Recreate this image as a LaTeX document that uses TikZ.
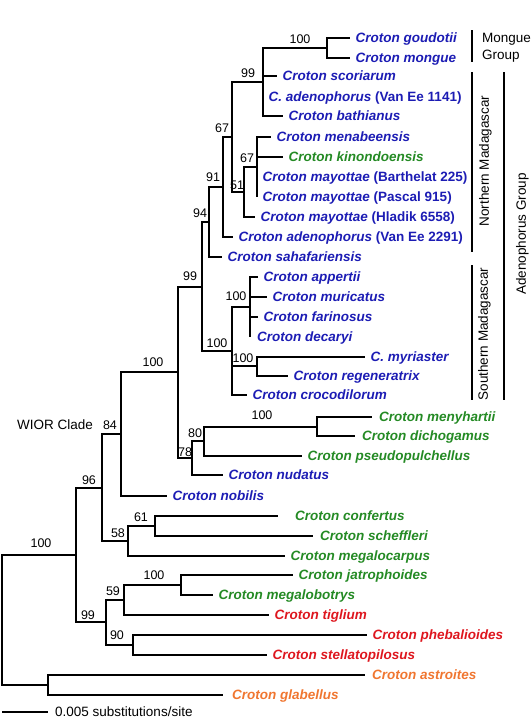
\documentclass[tikz,border=0pt]{standalone}
\usepackage{fontspec}
\setmainfont{Liberation Sans}
\usepackage{xcolor}
\usepackage{tikz}
\definecolor{crotonblue}{RGB}{28,28,180}
\definecolor{crotongreen}{RGB}{36,138,36}
\definecolor{crotonred}{RGB}{222,22,30}
\definecolor{crotonorange}{RGB}{240,118,48}

\begin{document}
\begin{tikzpicture}[x=1pt, y=-1pt,
    branch/.style={line width=1.8pt},
    taxon/.style={anchor=west, inner xsep=5.5pt, inner ysep=0pt, text height=9.7pt, text depth=0.9pt,
                  font=\fontsize{13.5}{16}\selectfont\bfseries\itshape},
    bluetaxon/.style={taxon, text=crotonblue},
    greentaxon/.style={taxon, text=crotongreen},
    redtaxon/.style={taxon, text=crotonred},
    orangetaxon/.style={taxon, text=crotonorange},
    boot/.style={inner sep=0pt, text height=9pt, text depth=0pt, font=\fontsize{12.5}{15}\selectfont},
    grouplabel/.style={inner sep=0pt, text height=9.7pt, text depth=0pt, font=\fontsize{13.5}{17}\selectfont},
    bar/.style={line width=1.8pt},
]
    \useasboundingbox (0,0) rectangle (532,720);

    % taxa
    \node[bluetaxon] (goudotii) at (350,38) {Croton goudotii};
    \node[bluetaxon] (mongue) at (350,58) {Croton mongue};
    \node[bluetaxon] (scoriarum) at (277,76) {Croton scoriarum};
    \node[bluetaxon] (adenoA) at (263,97) {C. adenophorus {\upshape(Van Ee 1141)}};
    \node[bluetaxon] (bathianus) at (283,116) {Croton bathianus};
    \node[bluetaxon] (menabeensis) at (271,137) {Croton menabeensis};
    \node[greentaxon] (kinondoensis) at (283,157) {Croton kinondoensis};
    \node[bluetaxon] (mayottaeA) at (257,177) {Croton mayottae {\upshape(Barthelat 225)}};
    \node[bluetaxon] (mayottaeB) at (257,197) {Croton mayottae {\upshape(Pascal 915)}};
    \node[bluetaxon] (mayottaeC) at (255,217) {Croton mayottae {\upshape(Hladik 6558)}};
    \node[bluetaxon] (adenoB) at (233,237) {Croton adenophorus {\upshape(Van Ee 2291)}};
    \node[bluetaxon] (sahafariensis) at (222,257) {Croton sahafariensis};
    \node[bluetaxon] (appertii) at (258,277) {Croton appertii};
    \node[bluetaxon] (muricatus) at (267,297) {Croton muricatus};
    \node[bluetaxon] (farinosus) at (258,317) {Croton farinosus};
    \node[bluetaxon, inner xsep=7pt] (decaryi) at (250,337) {Croton decaryi};
    \node[bluetaxon] (myriaster) at (365,357) {C. myriaster};
    \node[bluetaxon] (regeneratrix) at (288,376) {Croton regeneratrix};
    \node[bluetaxon] (crocodilorum) at (247,395) {Croton crocodilorum};
    \node[greentaxon, inner xsep=7pt] (menyhartii) at (372,417) {Croton menyhartii};
    \node[greentaxon, inner xsep=7pt] (dichogamus) at (355,436) {Croton dichogamus};
    \node[greentaxon] (pseudopulchellus) at (302,456) {Croton pseudopulchellus};
    \node[bluetaxon] (nudatus) at (223,475) {Croton nudatus};
    \node[bluetaxon] (nobilis) at (167,496) {Croton nobilis};
    \node[greentaxon, inner xsep=17pt] (confertus) at (278,516) {Croton confertus};
    \node[greentaxon, inner xsep=7pt] (scheffleri) at (313,536) {Croton scheffleri};
    \node[greentaxon] (megalocarpus) at (285,556) {Croton megalocarpus};
    \node[greentaxon] (jatrophoides) at (293,575) {Croton jatrophoides};
    \node[greentaxon] (megalobotrys) at (213,595) {Croton megalobotrys};
    \node[redtaxon] (tiglium) at (269,615) {Croton tiglium};
    \node[redtaxon] (phebalioides) at (367,635) {Croton phebalioides};
    \node[redtaxon] (stellatopilosus) at (267,655) {Croton stellatopilosus};
    \node[orangetaxon, inner xsep=7pt] (astroites) at (365,675) {Croton astroites};
    \node[orangetaxon, inner xsep=9pt] (glabellus) at (223,695) {Croton glabellus};

    % internal nodes
    \coordinate (nMongue) at (327,48);
    \coordinate (nNorthTop) at (263,82);
    \coordinate (nMay) at (257,167);
    \coordinate (nMayH) at (244,192);
    \coordinate (nNorthA) at (232,137);
    \coordinate (nNorth) at (223,187);
    \coordinate (nSaha) at (209,222);
    \coordinate (nAppert) at (250,307);
    \coordinate (nMyr) at (257,366);
    \coordinate (nSouth) at (232,351);
    \coordinate (nAdeno) at (202,287);
    \coordinate (nMeny) at (317,427);
    \coordinate (nPseudo) at (204,441);
    \coordinate (nNud) at (192,458);
    \coordinate (nMadag) at (178,372);
    \coordinate (nWIOR) at (121,434);
    \coordinate (nConf) at (155,526);
    \coordinate (nMegaloc) at (128,541);
    \coordinate (nAfrica) at (102,488);
    \coordinate (nJat) at (181,585);
    \coordinate (nTig) at (124,600);
    \coordinate (nPheb) at (133,645);
    \coordinate (nAsia) at (106,622);
    \coordinate (nIngroup) at (76,555);
    \coordinate (nOut) at (48,685);
    \coordinate (nRoot) at (2,620);

    % branches
    \draw[branch] (nMongue) |- (goudotii) (nMongue) |- (mongue);
    \draw[branch] (nNorthTop) |- (nMongue) (nNorthTop) |- (scoriarum) (nNorthTop) |- (adenoA) (nNorthTop) |- (bathianus);
    \draw[branch] (nMay) |- (menabeensis) (nMay) |- (kinondoensis) (nMay) |- (mayottaeA) (nMay) |- (mayottaeB);
    \draw[branch] (nMayH) |- (nMay) (nMayH) |- (mayottaeC);
    \draw[branch] (nNorthA) |- (nNorthTop) (nNorthA) |- (nMayH);
    \draw[branch] (nNorth) |- (nNorthA) (nNorth) |- (adenoB);
    \draw[branch] (nSaha) |- (nNorth) (nSaha) |- (sahafariensis);
    \draw[branch] (nAppert) |- (appertii) (nAppert) |- (muricatus) (nAppert) |- (farinosus) (nAppert) |- (decaryi);
    \draw[branch] (nMyr) |- (myriaster) (nMyr) |- (regeneratrix);
    \draw[branch] (nSouth) |- (nAppert) (nSouth) |- (nMyr) (nSouth) |- (crocodilorum);
    \draw[branch] (nAdeno) |- (nSaha) (nAdeno) |- (nSouth);
    \draw[branch] (nMeny) |- (menyhartii) (nMeny) |- (dichogamus);
    \draw[branch] (nPseudo) |- (nMeny) (nPseudo) |- (pseudopulchellus);
    \draw[branch] (nNud) |- (nPseudo) (nNud) |- (nudatus);
    \draw[branch] (nMadag) |- (nAdeno) (nMadag) |- (nNud);
    \draw[branch] (nWIOR) |- (nMadag) (nWIOR) |- (nobilis);
    \draw[branch] (nConf) |- (confertus) (nConf) |- (scheffleri);
    \draw[branch] (nMegaloc) |- (nConf) (nMegaloc) |- (megalocarpus);
    \draw[branch] (nAfrica) |- (nWIOR) (nAfrica) |- (nMegaloc);
    \draw[branch] (nJat) |- (jatrophoides) (nJat) |- (megalobotrys);
    \draw[branch] (nTig) |- (nJat) (nTig) |- (tiglium);
    \draw[branch] (nPheb) |- (phebalioides) (nPheb) |- (stellatopilosus);
    \draw[branch] (nAsia) |- (nTig) (nAsia) |- (nPheb);
    \draw[branch] (nIngroup) |- (nAfrica) (nIngroup) |- (nAsia);
    \draw[branch] (nOut) |- (astroites) (nOut) |- (glabellus);
    \draw[branch] (nRoot) |- (nIngroup) (nRoot) |- (nOut);

    % bootstrap values
    \node[boot] (bMongue) at (300,39) {100};
    \node[boot] (bNorthTop) at (248,73) {99};
    \node[boot] (bNorthA) at (222,128) {67};
    \node[boot] (bMay) at (247,158) {67};
    \node[boot] (bMayH) at (237,185) {51};
    \node[boot] (bNorth) at (213,177) {91};
    \node[boot] (bSaha) at (200,213) {94};
    \node[boot] (bAdeno) at (190,276) {99};
    \node[boot] (bAppert) at (236,296) {100};
    \node[boot] (bSouth) at (217,343) {100};
    \node[boot] (bMyr) at (243,358) {100};
    \node[boot] (bMadag) at (153,362) {100};
    \node[boot] (bMeny) at (262,415) {100};
    \node[boot] (bPseudo) at (195,433) {80};
    \node[boot] (bNud) at (185,452) {78};
    \node[boot] (bWIOR) at (110,425) {84};
    \node[boot] (bAfrica) at (89,480) {96};
    \node[boot] (bConf) at (141,517) {61};
    \node[boot] (bMegaloc) at (118,533) {58};
    \node[boot] (bIngroup) at (41,543) {100};
    \node[boot] (bJat) at (154,575) {100};
    \node[boot] (bTig) at (113,591) {59};
    \node[boot] (bAsia) at (88,615) {99};
    \node[boot] (bPheb) at (117,635) {90};

    \node[grouplabel] (wior) at (55,425) {WIOR Clade};

    % group bars
    \coordinate (mongueTop) at (472,30);
    \coordinate (mongueBot) at (472,62);
    \coordinate (northTop) at (472,72);
    \coordinate (northBot) at (472,252);
    \coordinate (southTop) at (472,265);
    \coordinate (southBot) at (472,400);
    \coordinate (adenoTop) at (504,72);
    \coordinate (adenoBot) at (504,400);
    \draw[bar] (mongueTop) -- (mongueBot);
    \draw[bar] (northTop) -- (northBot);
    \draw[bar] (southTop) -- (southBot);
    \draw[bar] (adenoTop) -- (adenoBot);

    \node[grouplabel, anchor=west] (mongueLbl) at (482,38) {Mongue};
    \node[grouplabel, anchor=west] (mongueGrp) at (482,55) {Group};
    \node[grouplabel, rotate=90] (northLbl) at (484,161) {Northern Madagascar};
    \node[grouplabel, rotate=90] (southLbl) at (483,334) {Southern Madagascar};
    \node[grouplabel, rotate=90] (adenoLbl) at (521,234) {Adenophorus Group};

    % scale bar
    \coordinate (scaleL) at (2,712);
    \node[grouplabel, anchor=west, inner xsep=7pt] (scaleTxt) at (48,712) {0.005 substitutions/site};
    \draw[branch] (scaleL) -- (scaleTxt.west);
\end{tikzpicture}
\end{document}
